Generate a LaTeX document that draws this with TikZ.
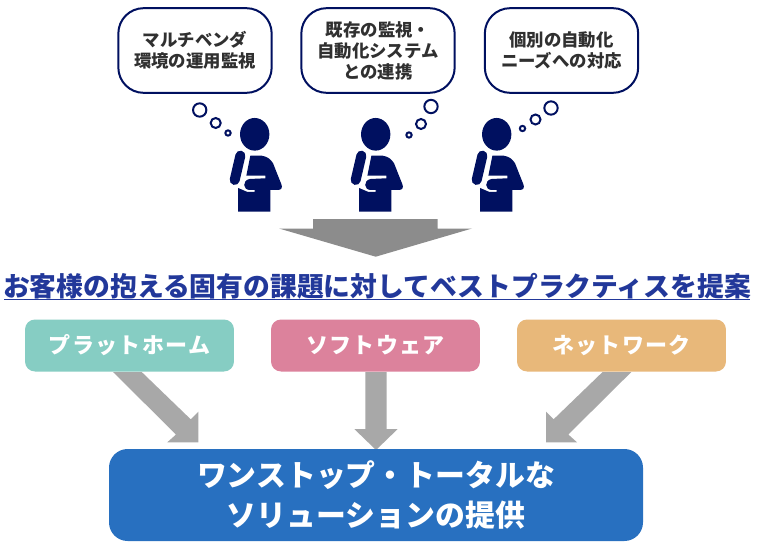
\documentclass[tikz,border=0pt]{standalone}
\usepackage{fontspec}
\setmainfont{Noto Sans CJK JP}
\definecolor{navy}{HTML}{001060}
\definecolor{bubbletext}{HTML}{303030}
\definecolor{titleblue}{HTML}{22389A}
\definecolor{teal}{HTML}{86CDC3}
\definecolor{rose}{HTML}{DC829C}
\definecolor{sand}{HTML}{E8B87A}
\definecolor{solblue}{HTML}{2870C0}
\definecolor{biggray}{HTML}{8C8C8C}
\definecolor{arrowgray}{HTML}{A8A8A8}
\tikzset{
  x=0.75pt,y=-0.75pt,
  thought/.style={draw=navy,line width=1.5pt,rounded corners=19pt,fill=white,minimum width=115pt,minimum height=63.5pt,inner sep=0pt,align=center,text=bubbletext,font=\fontsize{13.05}{15.8}\selectfont\bfseries},
  ring/.style={draw=navy,line width=1.5pt,fill=white,circle,inner sep=0pt},
  areabox/.style={rounded corners=7.5pt,minimum width=156.7pt,minimum height=39pt,inner sep=0pt,text=white,font=\fontsize{16.5}{20}\selectfont\bfseries\addfontfeature{LetterSpace=6}},
  solbox/.style={rounded corners=14pt,fill=solblue,minimum width=400.5pt,minimum height=69pt,inner sep=0pt,align=center,text=white,font=\fontsize{22.4}{29.5}\selectfont\bfseries},
  blockbig/.style={fill=biggray},
  blockarrow/.style={fill=arrowgray},
}
\newcommand{\thinker}[2]{% head centre x, y
  \begin{scope}[shift={(#1,#2)},x=0.25pt,y=-0.25pt]
    \fill[navy] (0,0) ellipse [x radius=44,y radius=49];
    \draw[navy,line width=7.5pt,line cap=round] (-43,64) -- (-60,137);
    \fill[navy] (-13,64) -- (20,64) .. controls (38,66) and (48,76) .. (55,87)
      -- (80,150) .. controls (84,160) and (80,167) .. (70,167)
      -- (-15,167) .. controls (-36,167) and (-38,138) .. (-15,134)
      -- (32,132) -- (32,124) -- (-25,124) -- cycle;
    \fill[navy] (-50,161) -- (-22,173) -- (0,173) -- (0,165) -- (47,165) -- (47,232) -- (-50,232) -- cycle;
  \end{scope}
}
\begin{document}
\begin{tikzpicture}
\useasboundingbox (0,0) rectangle (766,549);
\fill[white] (0,0) rectangle (766,549);

% thought boxes
\node[thought] (b1) at (195,50.5) {マルチベンダ\\環境の運用監視};
\node[thought] (b2) at (378,50.5) {既存の監視・\\自動化システム\\との連携};
\node[thought] (b3) at (561.5,50.5) {個別の自動化\\ニーズへの対応};

% thinkers
\thinker{254.7}{134.3}
\thinker{375.7}{134.3}
\thinker{496.7}{134.3}

% thought rings
\node[ring,minimum size=10pt] (r11) at (199.7,110) {};
\node[ring,minimum size=7.5pt] (r12) at (215.7,123) {};
\node[ring,minimum size=4pt] (r13) at (228,133) {};
\node[ring,minimum size=10pt] (r21) at (431,106.5) {};
\node[ring,minimum size=7.5pt] (r22) at (421,124) {};
\node[ring,minimum size=4pt] (r23) at (409,135) {};
\node[ring,minimum size=10pt] (r31) at (551,108) {};
\node[ring,minimum size=7.5pt] (r32) at (535.5,119.5) {};
\node[ring,minimum size=4pt] (r33) at (522.5,128.5) {};

% big arrow
\fill[blockbig] (313,219) -- (437.5,219) -- (437.5,228.5) -- (472,228.5) -- (375.7,256.7) -- (279,228.5) -- (313,228.5) -- cycle;

% title
\node[inner sep=0pt,text=titleblue,font=\fontsize{20.1}{24}\selectfont\bfseries] (title) at (377,286) {お客様の抱える固有の課題に対してベストプラクティスを提案};
\draw[titleblue,line width=1pt] (4,299.5) -- (750,299.5);

% area boxes
\node[areabox,fill=teal] (a1) at (129.5,345.5) {プラットホーム};
\node[areabox,fill=rose] (a2) at (375.5,345.5) {ソフトウェア};
\node[areabox,fill=sand] (a3) at (621.5,345.5) {ネットワーク};

% block arrows
\fill[blockarrow] (113,372) -- (141.7,372) -- (190.7,419.3) -- (198.3,411.7) -- (198.3,442.3) -- (167.3,442.3) -- (176,434.5) -- cycle;
\fill[blockarrow] (365.3,372) -- (386.7,372) -- (386.7,429) -- (397.7,429) -- (376,450) -- (354.3,429) -- (365.3,429) -- cycle;
\fill[blockarrow] (631.3,372) -- (602.6,372) -- (553.6,419.3) -- (546,411.7) -- (546,442.3) -- (577,442.3) -- (568.3,434.5) -- cycle;

% solution
\node[solbox] (sol) at (376,495) {ワンストップ・トータルな\\ソリューションの提供};
\end{tikzpicture}
\end{document}
